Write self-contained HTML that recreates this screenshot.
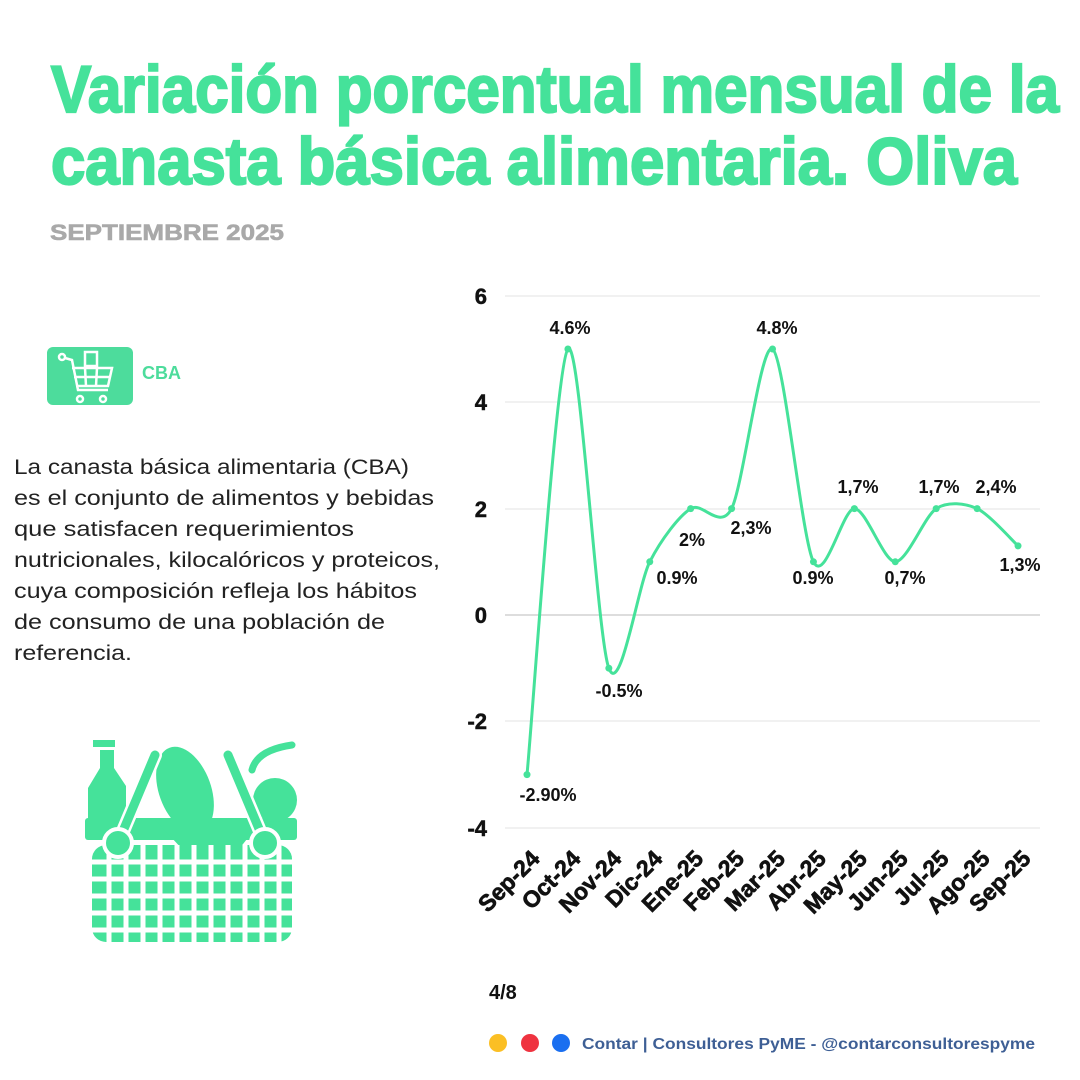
<!DOCTYPE html>
<html><head><meta charset="utf-8"><style>
html,body{margin:0;padding:0;background:#fff}
svg{display:block}
text{font-family:"Liberation Sans",sans-serif}
</style></head><body>
<svg width="1080" height="1080" viewBox="0 0 1080 1080" xmlns="http://www.w3.org/2000/svg">
<rect width="1080" height="1080" fill="#fff"/>
<g fill="#45E29A" stroke="#45E29A" stroke-width="2.2" font-weight="bold" font-size="66">
<text x="51" y="112" textLength="1008" lengthAdjust="spacingAndGlyphs">Variación porcentual mensual de la</text>
<text x="51" y="184" textLength="966" lengthAdjust="spacingAndGlyphs">canasta básica alimentaria.  Oliva</text>
</g>
<text x="50" y="240" fill="#A9A9A9" stroke="#A9A9A9" stroke-width="0.6" font-weight="bold" font-size="22" textLength="234" lengthAdjust="spacingAndGlyphs">SEPTIEMBRE 2025</text>

<!-- cart box -->
<rect x="47" y="347" width="86" height="58" rx="6" fill="#4DDC9C"/>
<g stroke="#fff" stroke-width="2.5" fill="none">
<circle cx="62" cy="357" r="3"/>
<path d="M65 358 L72 360 L78 390 L108 390"/>
<path d="M72 368 L112 368 L108 386 L76 386"/>
<path d="M74 377 L110 377 M85 368 L86 386 M97 368 L96 386"/>
<circle cx="80" cy="399" r="3"/><circle cx="103" cy="399" r="3"/>
<rect x="85" y="352" width="12" height="14"/>
</g>
<text x="142" y="379" fill="#4DDC9C" font-weight="bold" font-size="18">CBA</text>

<g fill="#222" font-size="21">
<text x="14" y="474" textLength="395" lengthAdjust="spacingAndGlyphs">La canasta básica alimentaria (CBA)</text>
<text x="14" y="505" textLength="420" lengthAdjust="spacingAndGlyphs">es el conjunto de alimentos y bebidas</text>
<text x="14" y="536" textLength="340" lengthAdjust="spacingAndGlyphs">que satisfacen requerimientos</text>
<text x="14" y="567" textLength="426" lengthAdjust="spacingAndGlyphs">nutricionales, kilocalóricos y proteicos,</text>
<text x="14" y="598" textLength="403" lengthAdjust="spacingAndGlyphs">cuya composición refleja los hábitos</text>
<text x="14" y="629" textLength="371" lengthAdjust="spacingAndGlyphs">de consumo de una población de</text>
<text x="14" y="660" textLength="118" lengthAdjust="spacingAndGlyphs">referencia.</text>
</g>

<!-- basket icon -->
<g fill="#45E29A">
<rect x="92" y="845" width="200" height="97" rx="14"/>
<rect x="85" y="818" width="212" height="22" rx="3"/>
<rect x="93" y="740" width="22" height="7"/>
<path d="M100 750 h14 v18 l12 18 v32 h-38 v-30 l12 -20z"/>
<ellipse cx="185" cy="790" rx="26" ry="45" transform="rotate(-20 185 790)"/>
<path d="M252 770 q5 -20 40 -25" stroke="#45E29A" stroke-width="7" fill="none" stroke-linecap="round"/>
<ellipse cx="275" cy="800" rx="22" ry="22"/>
<path d="M155 820 L262 820 L213 882 Z"/>
</g>
<g stroke="#fff" stroke-width="5">
<line x1="109" y1="845" x2="109" y2="942"/><line x1="126" y1="845" x2="126" y2="942"/>
<line x1="143" y1="845" x2="143" y2="942"/><line x1="160" y1="845" x2="160" y2="942"/>
<line x1="177" y1="845" x2="177" y2="942"/><line x1="194" y1="845" x2="194" y2="942"/>
<line x1="211" y1="845" x2="211" y2="942"/><line x1="228" y1="845" x2="228" y2="942"/>
<line x1="245" y1="845" x2="245" y2="942"/><line x1="262" y1="845" x2="262" y2="942"/>
<line x1="279" y1="845" x2="279" y2="942"/>
<line x1="92" y1="862" x2="292" y2="862"/><line x1="92" y1="879" x2="292" y2="879"/>
<line x1="92" y1="896" x2="292" y2="896"/><line x1="92" y1="913" x2="292" y2="913"/>
<line x1="92" y1="930" x2="292" y2="930"/>
</g>
<g stroke="#fff" stroke-width="14" stroke-linecap="round"><line x1="118" y1="843" x2="155" y2="755"/><line x1="265" y1="843" x2="228" y2="755"/></g>
<g stroke="#45E29A" stroke-width="9" stroke-linecap="round"><line x1="118" y1="843" x2="155" y2="755"/><line x1="265" y1="843" x2="228" y2="755"/></g>
<circle cx="118" cy="843" r="14" fill="#45E29A" stroke="#fff" stroke-width="4"/>
<circle cx="265" cy="843" r="14" fill="#45E29A" stroke="#fff" stroke-width="4"/>

<!-- chart -->
<g stroke="#E3E3E3" stroke-width="1">
<line x1="505" y1="296" x2="1040" y2="296"/><line x1="505" y1="402" x2="1040" y2="402"/>
<line x1="505" y1="509" x2="1040" y2="509"/><line x1="505" y1="721" x2="1040" y2="721"/>
<line x1="505" y1="828" x2="1040" y2="828"/>
</g>
<line x1="505" y1="615" x2="1040" y2="615" stroke="#BBBBBB"/>
<g font-weight="bold" font-size="22" fill="#111" stroke="#111" stroke-width="0.5" text-anchor="end">
<text x="487" y="304">6</text><text x="487" y="410">4</text><text x="487" y="517">2</text>
<text x="487" y="623">0</text><text x="487" y="729">-2</text><text x="487" y="836">-4</text>
</g>
<path id="curve" fill="none" stroke="#45E29A" stroke-width="3"/>
<g id="dots" fill="#45E29A"></g>
<g font-weight="bold" font-size="18" fill="#111" text-anchor="middle">
<text x="548" y="801">-2.90%</text>
<text x="570" y="334">4.6%</text>
<text x="619" y="697">-0.5%</text>
<text x="677" y="584">0.9%</text>
<text x="692" y="546">2%</text>
<text x="751" y="534">2,3%</text>
<text x="777" y="334">4.8%</text>
<text x="813" y="584">0.9%</text>
<text x="858" y="493">1,7%</text>
<text x="905" y="584">0,7%</text>
<text x="939" y="493">1,7%</text>
<text x="996" y="493">2,4%</text>
<text x="1020" y="571">1,3%</text>
</g>
<g id="xl" font-weight="bold" font-size="23" fill="#111" stroke="#111" stroke-width="0.7" text-anchor="end"></g>

<text x="489" y="999" font-weight="bold" font-size="20" fill="#111">4/8</text>
<circle cx="498" cy="1043" r="9" fill="#FBBF24"/>
<circle cx="530" cy="1043" r="9" fill="#EF3340"/>
<circle cx="561" cy="1043" r="9" fill="#1A6FF0"/>
<text x="582" y="1049" font-weight="bold" font-size="16" fill="#3E5F95" textLength="453" lengthAdjust="spacingAndGlyphs">Contar | Consultores PyME - @contarconsultorespyme</text>
</svg>
<script>
var vals=[-3,5,-1,1,2,2,5,1,2,1,2,2,1.3];
var labs=["Sep-24","Oct-24","Nov-24","Dic-24","Ene-25","Feb-25","Mar-25","Abr-25","May-25","Jun-25","Jul-25","Ago-25","Sep-25"];
var P=vals.map(function(v,i){return [527+i*40.92,615-53.2*v];});
var d="M"+P[0][0]+" "+P[0][1];
for(var i=0;i<P.length-1;i++){
 var p0=P[i-1]||P[i],p1=P[i],p2=P[i+1],p3=P[i+2]||P[i+1],t=7;
 d+=" C"+(p1[0]+(p2[0]-p0[0])/t)+" "+(p1[1]+(p2[1]-p0[1])/t)+" "+(p2[0]-(p3[0]-p1[0])/t)+" "+(p2[1]-(p3[1]-p1[1])/t)+" "+p2[0]+" "+p2[1];
}
document.getElementById("curve").setAttribute("d",d);
var ns="http://www.w3.org/2000/svg",g=document.getElementById("dots"),xl=document.getElementById("xl");
P.forEach(function(p,i){
 var c=document.createElementNS(ns,"circle");c.setAttribute("cx",p[0]);c.setAttribute("cy",p[1]);c.setAttribute("r",3.5);g.appendChild(c);
 var t=document.createElementNS(ns,"text");var x=p[0]+14,y=860;
 t.setAttribute("x",x);t.setAttribute("y",y);t.setAttribute("transform","rotate(-45 "+x+" "+y+")");t.textContent=labs[i];xl.appendChild(t);
});
</script>
</body></html>
